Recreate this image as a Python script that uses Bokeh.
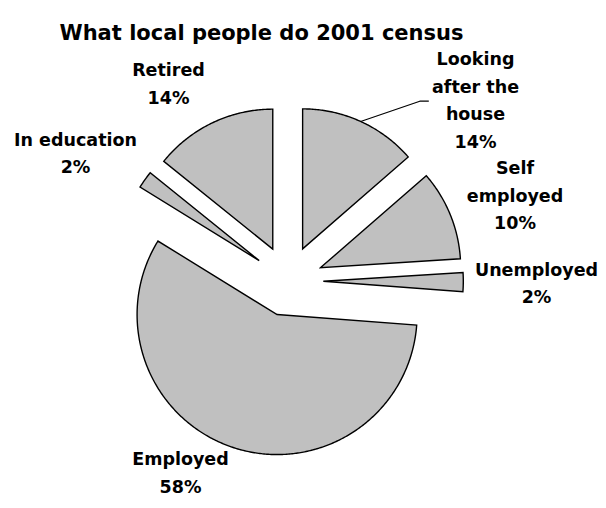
import numpy as np
from bokeh.plotting import figure
from bokeh.models import ColumnDataSource, Range1d
from bokeh.core.properties import value
from bokeh.embed import file_html
from bokeh.resources import INLINE

# ---- data ----
title_text = "What local people do 2001 census"
categories = ["Looking after the house", "Self employed", "Unemployed",
              "Employed", "In education", "Retired"]
shares = [13.6, 10.4, 2.2, 57.6, 2.0, 14.2]  # percent, clockwise from 12 o'clock

# ---- layout ----
label_lines = {"Looking after the house": "Looking\nafter the\nhouse",
               "Self employed": "Self\nemployed"}
label_pos = {  # centre of each label block, relative to pie centre (px)
    "Looking after the house": (187.5, 180.6),
    "Self employed": (227.0, 85.4),
    "Unemployed": (248.5, -2.6),
    "Employed": (-107.5, -192.0),
    "In education": (-212.5, 127.7),
    "Retired": (-119.5, 196.9),
}
R = 140.0
EXPLODE = 35.3
FONT = "DejaVu Sans"
W, H = 598, 500
CX, CY = 287.5, 280.5   # pie centre in page pixels from top-left

p = figure(width=W, height=H, output_backend="svg", toolbar_location=None,
           x_range=Range1d(-CX, W - CX), y_range=Range1d(CY - H, CY),
           x_axis_location=None, y_axis_location=None, min_border=0,
           outline_line_color=None, background_fill_color="white",
           border_fill_color="white")
p.grid.visible = False

vals = np.array(shares, dtype=float)
frac = vals / vals.sum()
ends = np.cumsum(frac)
starts = ends - frac
xs, ys, mids, centers = [], [], [], []
for s, e in zip(starts, ends):
    a0 = np.pi / 2 - 2 * np.pi * s
    a1 = np.pi / 2 - 2 * np.pi * e
    am = (a0 + a1) / 2
    cx, cy = EXPLODE * np.cos(am), EXPLODE * np.sin(am)
    n = max(4, int(abs(a1 - a0) / 0.01))
    t = np.linspace(a0, a1, n)
    xs.append([cx] + list(cx + R * np.cos(t)) + [cx])
    ys.append([cy] + list(cy + R * np.sin(t)) + [cy])
    mids.append(am)
    centers.append((cx, cy))

p.patches(xs, ys, fill_color="#C0C0C0", line_color="black", line_width=1.4,
          line_join="miter")

# leader line for "Looking after the house"
i = 0
lx0 = centers[i][0] + R * np.cos(mids[i])
ly0 = centers[i][1] + R * np.sin(mids[i])
p.line([lx0, 131.8, 140.8], [ly0, 179.8, 179.8], line_color="black", line_width=1.2)

texts = []
for c, v in zip(categories, shares):
    texts.append(label_lines.get(c, c) + "\n" + f"{round(v):.0f}%")
src = ColumnDataSource(dict(
    x=[label_pos[c][0] for c in categories],
    y=[label_pos[c][1] for c in categories],
    text=texts))
p.text(x="x", y="y", text="text", source=src, text_align="center",
       text_baseline="middle", text_font=value(FONT), text_font_style="bold",
       text_font_size="17.5px", text_line_height=1.375, text_color="black")

p.text(x=[-228.5], y=[248.0], text=[title_text], text_align="left",
       text_baseline="alphabetic", text_font=value(FONT), text_font_style="bold",
       text_font_size="21px", text_color="black")

open("out.html", "w").write(file_html(p, INLINE))
